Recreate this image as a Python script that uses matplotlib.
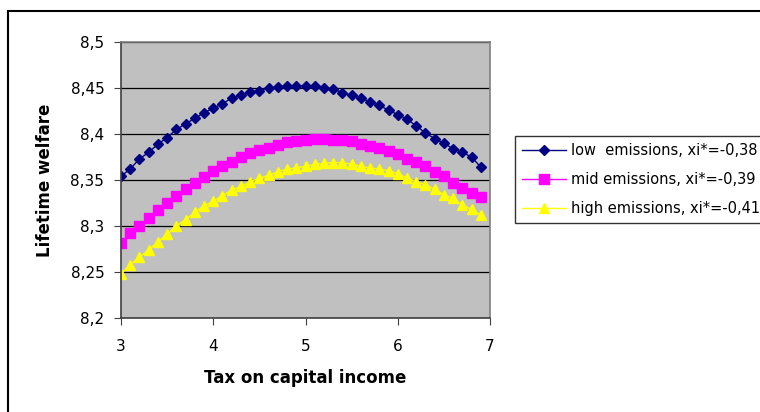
import matplotlib.pyplot as plt
import numpy as np
from matplotlib.patches import Rectangle

# tax rate grid, 3.0 .. 6.9 in steps of 0.1
tax = np.round(np.arange(3.0, 6.95, 0.1), 1)

low = [8.354, 8.362, 8.373, 8.380, 8.389, 8.396, 8.405, 8.411, 8.417, 8.423,
       8.428, 8.433, 8.439, 8.442, 8.446, 8.447, 8.450, 8.451, 8.452, 8.452,
       8.452, 8.452, 8.450, 8.449, 8.445, 8.442, 8.439, 8.435, 8.431, 8.426,
       8.421, 8.416, 8.409, 8.401, 8.395, 8.390, 8.384, 8.380, 8.375, 8.364]
mid = [8.282, 8.292, 8.300, 8.309, 8.317, 8.325, 8.333, 8.340, 8.347, 8.353,
       8.360, 8.365, 8.370, 8.375, 8.379, 8.383, 8.385, 8.388, 8.391, 8.392,
       8.393, 8.395, 8.395, 8.394, 8.393, 8.392, 8.389, 8.387, 8.385, 8.382,
       8.378, 8.373, 8.370, 8.365, 8.359, 8.354, 8.347, 8.341, 8.336, 8.332]
high = [8.248, 8.258, 8.266, 8.274, 8.283, 8.291, 8.300, 8.307, 8.315, 8.322,
        8.327, 8.333, 8.339, 8.343, 8.348, 8.352, 8.355, 8.359, 8.362, 8.363,
        8.365, 8.367, 8.368, 8.369, 8.369, 8.367, 8.365, 8.363, 8.362, 8.360,
        8.357, 8.352, 8.348, 8.345, 8.340, 8.334, 8.330, 8.323, 8.318, 8.312]

labels = ['low  emissions, xi*=-0,38', 'mid emissions, xi*=-0,39', 'high emissions, xi*=-0,41']
yticks = [8.2, 8.25, 8.3, 8.35, 8.4, 8.45, 8.5]
xticks = [3, 4, 5, 6, 7]

plt.rcParams['font.family'] = ['DejaVu Sans']

fig = plt.figure(figsize=(7.6, 4.12), dpi=100)
# outer chart border (runs off the right/bottom edge like the original)
fig.patches.append(Rectangle((8 / 760, -0.1), 1.2, 1 - 11 / 412 + 0.1, transform=fig.transFigure,
                             fill=False, edgecolor='black', linewidth=1.5))

ax = fig.add_axes([121 / 760, 1 - 318 / 412, (490 - 121) / 760, (318 - 42) / 412])
ax.set_facecolor('#C0C0C0')

ax.plot(tax, low, color='#000080', marker='D', markersize=5.5, linewidth=1, label=labels[0])
ax.plot(tax, mid, color='#FF00FF', marker='s', markersize=7, linewidth=1, label=labels[1])
ax.plot(tax, high, color='#FFFF00', marker='^', markersize=7.5, linewidth=1, label=labels[2])

ax.set_xlim(3, 7)
ax.set_ylim(8.2, 8.5)
ax.set_xticks(xticks)
ax.set_yticks(yticks)
ax.set_yticklabels([f'{v:g}'.replace('.', ',') for v in yticks])
ax.grid(axis='y', color='black', linewidth=0.9)
ax.set_axisbelow(True)
ax.tick_params(labelsize=11, length=5, color='#404040')
ax.tick_params(axis='x', pad=10)
ax.tick_params(axis='y', pad=7)

for s in ['left', 'bottom']:
    ax.spines[s].set_color('#404040')
    ax.spines[s].set_linewidth(1.2)
for s in ['top', 'right']:
    ax.spines[s].set_color('#808080')
    ax.spines[s].set_linewidth(1.2)

ax.set_xlabel('Tax on capital income', fontsize=12, fontweight='bold', labelpad=11)
ax.set_ylabel('Lifetime welfare', fontsize=12, fontweight='bold', labelpad=12)

leg = fig.legend(loc='upper left', bbox_to_anchor=(515 / 760, 1 - 136 / 412), fontsize=10.5,
                 frameon=True, fancybox=False, edgecolor='black', handlelength=3.0,
                 borderaxespad=0, labelspacing=0.95, handletextpad=0.35, borderpad=0.5)
leg.get_frame().set_linewidth(1)

fig.savefig('out.png', dpi=100)
